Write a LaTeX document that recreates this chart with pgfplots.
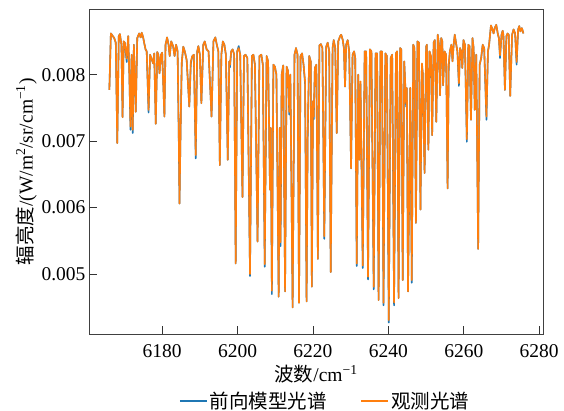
\documentclass[border=0pt]{standalone}
\usepackage{fontspec}
\setmainfont{Liberation Serif}
\newfontfamily\cjk{Noto Sans CJK SC}
\usepackage{pgfplots}
\usepackage{pgfplotstable}
\pgfplotsset{compat=1.18}
\definecolor{mblue}{HTML}{1F77B4}
\definecolor{morange}{HTML}{FF7F0E}
\pgfplotstableread{
x obs model
6166.0 0.00777 0.00777
6166.4 0.00862 0.00862
6166.9 0.00858 0.00858
6167.3 0.00855 0.00855
6167.7 0.00848 0.00848
6168.1 0.00697 0.00697
6168.5 0.00858 0.00858
6168.8 0.00861 0.00861
6169.2 0.00845 0.00845
6169.5 0.00736 0.00736
6169.8 0.00850 0.00850
6170.1 0.00848 0.00848
6170.6 0.00824 0.00819
6171.0 0.00858 0.00858
6171.3 0.00800 0.00800
6171.6 0.00722 0.00717
6171.9 0.00830 0.00830
6172.2 0.00717 0.00712
6172.5 0.00845 0.00845
6173.0 0.00744 0.00744
6173.4 0.00855 0.00855
6173.9 0.00862 0.00862
6174.3 0.00856 0.00856
6174.6 0.00863 0.00863
6175.0 0.00855 0.00855
6175.3 0.00846 0.00846
6175.6 0.00838 0.00838
6175.9 0.00835 0.00835
6176.4 0.00747 0.00743
6176.8 0.00830 0.00830
6177.1 0.00825 0.00825
6177.6 0.00817 0.00817
6177.9 0.00832 0.00832
6178.3 0.00726 0.00726
6178.7 0.00834 0.00834
6179.0 0.00830 0.00830
6179.3 0.00802 0.00802
6179.7 0.00830 0.00830
6180.0 0.00833 0.00833
6180.6 0.00737 0.00737
6180.9 0.00845 0.00845
6181.3 0.00856 0.00856
6181.7 0.00845 0.00845
6182.0 0.00828 0.00828
6182.4 0.00850 0.00850
6182.9 0.00843 0.00843
6183.3 0.00828 0.00828
6183.7 0.00845 0.00845
6184.1 0.00835 0.00835
6184.4 0.00712 0.00707
6184.6 0.00606 0.00606
6184.9 0.00720 0.00720
6185.2 0.00818 0.00818
6185.6 0.00842 0.00842
6186.0 0.00835 0.00835
6186.5 0.00822 0.00822
6187.2 0.00752 0.00752
6187.6 0.00820 0.00816
6188.0 0.00828 0.00828
6188.4 0.00830 0.00830
6188.9 0.00679 0.00674
6189.3 0.00835 0.00835
6189.6 0.00843 0.00843
6190.0 0.00830 0.00830
6190.4 0.00757 0.00757
6190.9 0.00845 0.00845
6191.3 0.00850 0.00850
6191.8 0.00838 0.00838
6192.3 0.00835 0.00835
6193.1 0.00737 0.00737
6193.6 0.00850 0.00850
6194.1 0.00856 0.00856
6194.5 0.00845 0.00845
6194.9 0.00835 0.00835
6195.3 0.00664 0.00664
6195.7 0.00830 0.00830
6196.1 0.00850 0.00850
6196.5 0.00845 0.00845
6196.9 0.00830 0.00830
6197.4 0.00672 0.00672
6197.8 0.00820 0.00820
6198.0 0.00815 0.00811
6198.3 0.00835 0.00835
6198.7 0.00838 0.00838
6199.1 0.00830 0.00830
6199.5 0.00516 0.00516
6199.9 0.00835 0.00835
6200.3 0.00840 0.00843
6200.7 0.00830 0.00830
6201.3 0.00616 0.00616
6201.7 0.00828 0.00828
6202.1 0.00830 0.00830
6202.6 0.00825 0.00825
6203.3 0.00500 0.00497
6203.8 0.00828 0.00828
6204.2 0.00830 0.00830
6204.6 0.00815 0.00815
6205.3 0.00549 0.00549
6205.8 0.00828 0.00828
6206.3 0.00830 0.00830
6206.7 0.00815 0.00815
6207.2 0.00515 0.00511
6207.7 0.00828 0.00828
6208.1 0.00820 0.00820
6208.3 0.00745 0.00745
6208.6 0.00627 0.00627
6208.8 0.00720 0.00720
6209.1 0.00475 0.00470
6209.5 0.00815 0.00815
6209.9 0.00812 0.00812
6210.3 0.00800 0.00800
6210.9 0.00466 0.00466
6211.2 0.00720 0.00720
6211.4 0.00548 0.00542
6211.7 0.00800 0.00800
6212.1 0.00814 0.00814
6212.6 0.00474 0.00474
6213.0 0.00812 0.00812
6213.4 0.00805 0.00805
6213.7 0.00744 0.00740
6214.0 0.00800 0.00800
6214.6 0.00450 0.00450
6215.1 0.00830 0.00830
6215.5 0.00840 0.00840
6215.9 0.00830 0.00830
6216.3 0.00457 0.00457
6216.7 0.00828 0.00828
6217.1 0.00832 0.00832
6217.5 0.00815 0.00815
6217.9 0.00790 0.00786
6218.3 0.00459 0.00459
6218.6 0.00714 0.00709
6219.0 0.00828 0.00828
6219.4 0.00820 0.00820
6219.7 0.00481 0.00481
6220.0 0.00760 0.00760
6220.2 0.00737 0.00733
6220.5 0.00810 0.00810
6220.9 0.00815 0.00815
6221.3 0.00523 0.00523
6221.7 0.00844 0.00844
6222.1 0.00846 0.00846
6222.5 0.00840 0.00840
6223.0 0.00557 0.00553
6223.5 0.00842 0.00842
6223.9 0.00848 0.00848
6224.3 0.00835 0.00835
6224.7 0.00503 0.00503
6225.2 0.00840 0.00840
6225.5 0.00852 0.00852
6225.9 0.00840 0.00840
6226.3 0.00712 0.00712
6226.7 0.00850 0.00850
6227.2 0.00858 0.00858
6227.5 0.00860 0.00860
6227.9 0.00852 0.00852
6228.2 0.00840 0.00840
6228.5 0.00782 0.00782
6228.8 0.00845 0.00845
6229.2 0.00852 0.00852
6229.6 0.00835 0.00835
6230.1 0.00659 0.00659
6230.5 0.00830 0.00830
6230.9 0.00835 0.00835
6231.2 0.00825 0.00825
6231.6 0.00516 0.00512
6232.0 0.00800 0.00800
6232.3 0.00672 0.00672
6232.6 0.00790 0.00786
6233.2 0.00513 0.00509
6233.7 0.00835 0.00835
6234.1 0.00835 0.00835
6234.6 0.00496 0.00492
6235.1 0.00838 0.00838
6235.5 0.00835 0.00835
6236.1 0.00481 0.00477
6236.6 0.00832 0.00832
6237.0 0.00832 0.00832
6237.4 0.00461 0.00461
6237.9 0.00835 0.00835
6238.3 0.00835 0.00835
6238.7 0.00457 0.00453
6239.2 0.00832 0.00832
6239.6 0.00828 0.00828
6240.1 0.00431 0.00427
6240.6 0.00825 0.00825
6241.0 0.00830 0.00830
6241.5 0.00457 0.00453
6242.0 0.00832 0.00832
6242.3 0.00835 0.00835
6242.7 0.00464 0.00464
6243.1 0.00840 0.00840
6243.4 0.00838 0.00838
6243.8 0.00491 0.00491
6244.2 0.00820 0.00820
6244.7 0.00756 0.00752
6244.9 0.00780 0.00780
6245.2 0.00474 0.00474
6245.5 0.00618 0.00613
6245.8 0.00780 0.00780
6246.2 0.00491 0.00487
6246.6 0.00845 0.00845
6246.9 0.00840 0.00840
6247.3 0.00577 0.00577
6247.7 0.00850 0.00850
6248.1 0.00848 0.00848
6248.5 0.00597 0.00597
6248.9 0.00817 0.00813
6249.1 0.00803 0.00803
6249.6 0.00652 0.00652
6250.0 0.00842 0.00842
6250.2 0.00845 0.00845
6250.6 0.00687 0.00687
6250.9 0.00835 0.00835
6251.3 0.00828 0.00824
6251.6 0.00709 0.00709
6252.0 0.00848 0.00848
6252.3 0.00852 0.00852
6252.7 0.00729 0.00729
6253.1 0.00860 0.00860
6253.4 0.00845 0.00845
6253.7 0.00769 0.00769
6254.0 0.00855 0.00855
6254.3 0.00850 0.00850
6254.5 0.00784 0.00784
6254.9 0.00835 0.00835
6255.3 0.00830 0.00830
6255.7 0.00629 0.00629
6256.0 0.00816 0.00812
6256.3 0.00835 0.00835
6256.7 0.00845 0.00845
6257.0 0.00820 0.00820
6257.3 0.00845 0.00845
6257.6 0.00860 0.00860
6258.0 0.00845 0.00845
6258.3 0.00835 0.00835
6258.7 0.00787 0.00783
6259.0 0.00840 0.00840
6259.3 0.00835 0.00835
6259.6 0.00810 0.00810
6259.9 0.00852 0.00852
6260.3 0.00845 0.00845
6260.8 0.00703 0.00699
6261.2 0.00845 0.00845
6261.5 0.00843 0.00843
6261.9 0.00732 0.00732
6262.3 0.00855 0.00855
6262.6 0.00840 0.00840
6262.9 0.00747 0.00747
6263.3 0.00830 0.00830
6263.8 0.00538 0.00538
6264.2 0.00815 0.00815
6264.6 0.00825 0.00825
6265.0 0.00845 0.00845
6265.4 0.00840 0.00840
6266.0 0.00737 0.00732
6266.4 0.00835 0.00835
6266.7 0.00845 0.00845
6267.2 0.00874 0.00874
6267.6 0.00868 0.00868
6267.9 0.00862 0.00862
6268.2 0.00870 0.00870
6268.6 0.00875 0.00875
6269.0 0.00862 0.00862
6269.3 0.00855 0.00855
6269.6 0.00829 0.00825
6270.0 0.00860 0.00860
6270.3 0.00866 0.00866
6270.5 0.00860 0.00860
6270.9 0.00777 0.00777
6271.3 0.00858 0.00858
6271.6 0.00862 0.00862
6271.9 0.00860 0.00860
6272.3 0.00768 0.00768
6272.8 0.00860 0.00860
6273.2 0.00868 0.00868
6273.6 0.00862 0.00862
6274.0 0.00819 0.00815
6274.4 0.00868 0.00868
6274.7 0.00873 0.00873
6275.0 0.00865 0.00865
6275.4 0.00870 0.00870
6275.8 0.00862 0.00862
}\spec
\begin{document}
\begin{tikzpicture}
\begin{axis}[
  scale only axis,
  width=454pt, height=324.5pt,
  xmin=6160.6, xmax=6281,
  ymin=0.0041, ymax=0.00898,
  xtick={6180,6200,6220,6240,6260,6280},
  ytick={0.005,0.006,0.007,0.008},
  scaled y ticks=false,
  scaled x ticks=false,
  /pgf/number format/1000 sep={},
  yticklabel style={/pgf/number format/fixed,/pgf/number format/fixed zerofill,/pgf/number format/precision=3},
  /pgf/number format/assume math mode=true,
  tick align=inside,
  xtick pos=bottom, ytick pos=left,
  major tick length=7.7pt,
  tick style={black!80, line width=0.9pt},
  axis line style={black!75, line width=0.9pt},
  ticklabel style={font=\fontsize{19.5}{22}\selectfont},
  xticklabel style={yshift=-7pt},
  label style={font=\fontsize{19.5}{22}\selectfont},
  xlabel={{\cjk 波数}/cm\textsuperscript{−1}},
  ylabel={{\cjk 辐亮度}/(W/m\textsuperscript{2}/sr/cm\textsuperscript{−1})},
  xlabel style={yshift=-0.5pt},
  ylabel style={yshift=-2pt},
  legend style={at={(0.52,-0.172)}, anchor=north, draw=none, fill=none,
    font=\fontsize{19.5}{22}\selectfont\cjk, legend columns=2, inner sep=0pt,
    /tikz/every even column/.append style={column sep=32pt}},
  legend image code/.code={\draw[#1] (0pt,0pt) -- (27pt,0pt);},
  legend cell align=left,
]
\addplot[mblue, line width=1.6pt, line join=round] table[x=x,y=model] {\spec};
\addlegendentry{前向模型光谱}
\addplot[morange, line width=1.6pt, line join=round] table[x=x,y=obs] {\spec};
\addlegendentry{观测光谱}
\end{axis}
\pgfresetboundingbox
\path[use as bounding box] (-89pt,-77pt) rectangle (475pt,334pt);
\end{tikzpicture}
\end{document}
